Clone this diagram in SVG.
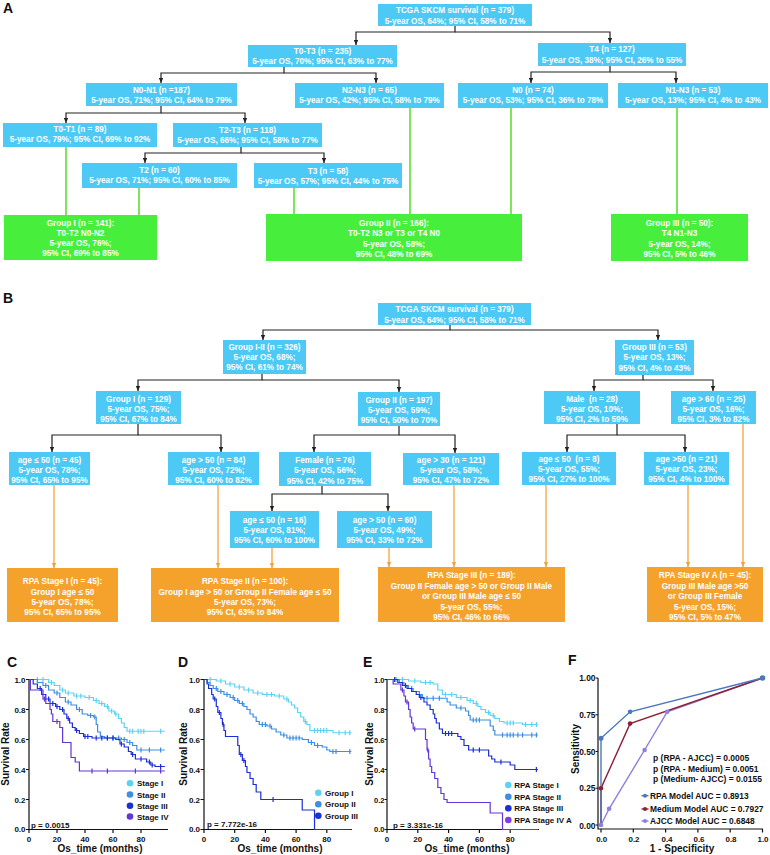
<svg xmlns="http://www.w3.org/2000/svg" width="770" height="855" viewBox="0 0 770 855">
<defs>
<style>
.bb{fill:#4DC9F5}
.bg{fill:#48EE3C}
.bo{fill:#F5A22C}
.bt{font-family:"Liberation Sans",Arial,sans-serif;font-size:8.2px;font-weight:bold;fill:#fff;text-anchor:middle}
.lk{stroke:#222;stroke-width:1.2;fill:none;marker-end:url(#ak)}
.lgn{stroke:#5FDC35;stroke-width:1.6;fill:none}
.lor{stroke:#F2A33C;stroke-width:1.3;fill:none;marker-end:url(#ao)}
.pl{font-family:"Liberation Sans",Arial,sans-serif;font-weight:bold;font-size:14px;fill:#111}
.tk{font-family:"Liberation Sans",Arial,sans-serif;font-weight:bold;font-size:8px;fill:#111}
.ttl{font-family:"Liberation Sans",Arial,sans-serif;font-weight:bold;font-size:10px;fill:#111;text-anchor:middle}
.lgt{font-family:"Liberation Sans",Arial,sans-serif;font-weight:bold;font-size:8px;fill:#111}
.st{font-family:"Liberation Sans",Arial,sans-serif;font-weight:bold;font-size:8.5px;fill:#111}
.ax{stroke:#111;stroke-width:1.2;fill:none}
.km{fill:none;stroke-width:1.2;vector-effect:non-scaling-stroke}
.c1{stroke:#5DD3F3}
.c2{stroke:#3C8FE3}
.c3{stroke:#1B2FD6}
.c4{stroke:#6236D8}
</style>
<marker id="ak" markerUnits="userSpaceOnUse" markerWidth="5" markerHeight="5" viewBox="0 0 5 5" refX="5" refY="2.5" orient="auto"><path d="M0,0.3 L5,2.5 L0,4.7 z" fill="#222"/></marker>
<marker id="ao" markerUnits="userSpaceOnUse" markerWidth="5" markerHeight="5" viewBox="0 0 5 5" refX="5" refY="2.5" orient="auto"><path d="M0,0.3 L5,2.5 L0,4.7 z" fill="#F2A33C"/></marker>
</defs>
<rect width="770" height="855" fill="#fff"/>

<!-- Panel A -->
<text class="pl" x="3" y="13">A</text>
<g id="connectors-a">
<path class="lk" d="M455 26 V32 H356 V45"/>
<path class="lk" d="M455 32 H610 V43"/>
<path class="lk" d="M284 67 V73 H161 V83"/>
<path class="lk" d="M284 73 H376 V83"/>
<path class="lk" d="M610 66 V72 H531 V83"/>
<path class="lk" d="M610 72 H676 V83"/>
<path class="lk" d="M161 106 V113 H66 V123"/>
<path class="lk" d="M161 113 H245 V123"/>
<path class="lk" d="M241 147 V153 H145 V163"/>
<path class="lk" d="M241 153 H324 V163"/>
<path class="lgn" d="M66 147 V215"/>
<path class="lgn" d="M139 188 V215"/>
<path class="lgn" d="M294 188 V214"/>
<path class="lgn" d="M410 108 V214"/>
<path class="lgn" d="M511 108 V214"/>
<path class="lgn" d="M677 108 V214"/>
</g>
<g id="a-root"><rect class="bb" x="378" y="4" width="154" height="22"/><text class="bt"><tspan x="455" y="13">TCGA SKCM survival (n = 379)</tspan><tspan x="455" y="23.5">5-year OS, 64%; 95% CI, 58% to 71%</tspan></text></g>
<g id="a-t0t3"><rect class="bb" x="248" y="45" width="149" height="22"/><text class="bt"><tspan x="322.5" y="53.5">T0-T3 (n = 235)</tspan><tspan x="322.5" y="64">5-year OS, 70%; 95% CI, 63% to 77%</tspan></text></g>
<g id="a-t4"><rect class="bb" x="538" y="43" width="148" height="23"/><text class="bt"><tspan x="612" y="52">T4 (n = 127)</tspan><tspan x="612" y="62.5">5-year OS, 38%; 95% CI, 26% to 55%</tspan></text></g>
<g id="a-n0n1"><rect class="bb" x="86" y="83" width="151" height="23"/><text class="bt"><tspan x="161.5" y="92.5">N0-N1 (n =187)</tspan><tspan x="161.5" y="102.5">5-year OS, 71%; 95% CI, 64% to 79%</tspan></text></g>
<g id="a-n2n3"><rect class="bb" x="295" y="83" width="149" height="25"/><text class="bt"><tspan x="369.5" y="93">N2-N3 (n = 65)</tspan><tspan x="369.5" y="103">5-year OS, 42%; 95% CI, 58% to 79%</tspan></text></g>
<g id="a-n0"><rect class="bb" x="458" y="83" width="150" height="25"/><text class="bt"><tspan x="533" y="92.5">N0 (n = 74)</tspan><tspan x="533" y="102.5">5-year OS, 53%; 95% CI, 36% to 78%</tspan></text></g>
<g id="a-n1n3"><rect class="bb" x="618" y="83" width="150" height="25"/><text class="bt"><tspan x="693" y="92.5">N1-N3 (n = 53)</tspan><tspan x="693" y="102.5">5-year OS, 13%; 95% CI, 4% to 43%</tspan></text></g>
<g id="a-t0t1"><rect class="bb" x="3" y="123" width="154" height="24"/><text class="bt"><tspan x="80" y="131.5">T0-T1 (n = 89)</tspan><tspan x="80" y="141.5">5-year OS, 79%; 95% CI, 69% to 92%</tspan></text></g>
<g id="a-t2t3"><rect class="bb" x="173" y="123" width="149" height="24"/><text class="bt"><tspan x="247.5" y="132.5">T2-T3 (n = 118)</tspan><tspan x="247.5" y="143">5-year OS, 66%; 95% CI, 58% to 77%</tspan></text></g>
<g id="a-t2"><rect class="bb" x="82" y="163" width="155" height="25"/><text class="bt"><tspan x="159.5" y="173">T2 (n = 60)</tspan><tspan x="159.5" y="183">5-year OS, 71%; 95% CI, 60% to 85%</tspan></text></g>
<g id="a-t3"><rect class="bb" x="254" y="163" width="148" height="25"/><text class="bt"><tspan x="328" y="174">T3 (n = 58)</tspan><tspan x="328" y="184">5-year OS, 57%; 95% CI, 44% to 75%</tspan></text></g>
<g id="a-g1"><rect class="bg" x="4" y="215" width="153" height="45"/><text class="bt"><tspan x="80.5" y="226">Group I (n = 141):</tspan><tspan x="80.5" y="236">T0-T2 N0-N2</tspan><tspan x="80.5" y="246">5-year OS, 76%;</tspan><tspan x="80.5" y="256">95% CI, 69% to 85%</tspan></text></g>
<g id="a-g2"><rect class="bg" x="266" y="214" width="256" height="47"/><text class="bt"><tspan x="394" y="225.5">Group II (n = 166):</tspan><tspan x="394" y="236">T0-T2 N3 or T3 or T4 N0</tspan><tspan x="394" y="246.5">5-year OS, 58%;</tspan><tspan x="394" y="256.5">95% CI, 48% to 69%</tspan></text></g>
<g id="a-g3"><rect class="bg" x="611" y="214" width="137" height="47"/><text class="bt"><tspan x="679.5" y="225.5">Group III (n = 50):</tspan><tspan x="679.5" y="236">T4 N1-N3</tspan><tspan x="679.5" y="246.5">5-year OS, 14%;</tspan><tspan x="679.5" y="256.5">95% CI, 5% to 46%</tspan></text></g>

<!-- Panel B -->
<text class="pl" x="3" y="303">B</text>
<g id="connectors-b">
<path class="lk" d="M450 325 V330 H263 V340"/>
<path class="lk" d="M450 330 H658 V340"/>
<path class="lk" d="M262 374 V380 H138 V391"/>
<path class="lk" d="M262 380 H399 V392"/>
<path class="lk" d="M643 375 V380 H594 V391"/>
<path class="lk" d="M643 380 H713 V391"/>
<path class="lk" d="M138 424 V435 H52 V452"/>
<path class="lk" d="M138 435 H221 V452"/>
<path class="lk" d="M399 426 V435 H314 V452"/>
<path class="lk" d="M399 435 H455 V453"/>
<path class="lk" d="M617 424 V435 H567 V452"/>
<path class="lk" d="M617 435 H685 V452"/>
<path class="lk" d="M322 486 V494 H272 V511"/>
<path class="lk" d="M322 494 H388 V511"/>
<path class="lor" d="M54 485 V568"/>
<path class="lor" d="M218 485 V568"/>
<path class="lor" d="M272 548 V568"/>
<path class="lor" d="M389 548 V567"/>
<path class="lor" d="M454 485 V567"/>
<path class="lor" d="M546 485 V567"/>
<path class="lor" d="M688 485 V567"/>
<path class="lor" d="M743 424 V567"/>
</g>
<g id="b-root"><rect class="bb" x="378" y="303" width="153" height="22"/><text class="bt"><tspan x="454.5" y="312">TCGA SKCM survival (n = 379)</tspan><tspan x="454.5" y="322.5">5-year OS, 64%; 95% CI, 58% to 71%</tspan></text></g>
<g id="b-g12"><rect class="bb" x="223" y="340" width="83" height="34"/><text class="bt"><tspan x="264.5" y="350">Group I-II (n = 326)</tspan><tspan x="264.5" y="360">5-year OS, 68%;</tspan><tspan x="264.5" y="370">95% CI, 61% to 74%</tspan></text></g>
<g id="b-g3"><rect class="bb" x="615" y="340" width="79" height="35"/><text class="bt"><tspan x="654.5" y="350">Group III (n = 53)</tspan><tspan x="654.5" y="360">5-year OS, 13%;</tspan><tspan x="654.5" y="370.5">95% CI, 4% to 43%</tspan></text></g>
<g id="b-g1"><rect class="bb" x="96" y="391" width="85" height="33"/><text class="bt"><tspan x="138.5" y="401.5">Group I (n = 129)</tspan><tspan x="138.5" y="411.5">5-year OS, 75%;</tspan><tspan x="138.5" y="421.5">95% CI, 67% to 84%</tspan></text></g>
<g id="b-g2"><rect class="bb" x="358" y="392" width="82" height="34"/><text class="bt"><tspan x="399" y="402.5">Group II (n = 197)</tspan><tspan x="399" y="412.5">5-year OS, 59%;</tspan><tspan x="399" y="422.5">95% CI, 50% to 70%</tspan></text></g>
<g id="b-male"><rect class="bb" x="544" y="391" width="96" height="33"/><text class="bt"><tspan x="592" y="401.5">Male&#160; (n = 28)</tspan><tspan x="592" y="411.5">5-year OS, 10%;</tspan><tspan x="592" y="421.5">95% CI, 2% to 59%</tspan></text></g>
<g id="b-age60"><rect class="bb" x="671" y="391" width="85" height="33"/><text class="bt"><tspan x="713.5" y="401.5">age &gt; 60 (n = 25)</tspan><tspan x="713.5" y="411.5">5-year OS, 16%;</tspan><tspan x="713.5" y="421.5">95% CI, 3% to 82%</tspan></text></g>
<g id="b-age-le50-45"><rect class="bb" x="9" y="452" width="81" height="33"/><text class="bt"><tspan x="49.5" y="462.5">age ≤ 50 (n = 45)</tspan><tspan x="49.5" y="472.5">5-year OS, 78%;</tspan><tspan x="49.5" y="482.5">95% CI, 65% to 95%</tspan></text></g>
<g id="b-age-gt50-84"><rect class="bb" x="168" y="452" width="91" height="33"/><text class="bt"><tspan x="213.5" y="462.5">age &gt; 50 (n = 84)</tspan><tspan x="213.5" y="472.5">5-year OS, 72%;</tspan><tspan x="213.5" y="482.5">95% CI, 60% to 82%</tspan></text></g>
<g id="b-female"><rect class="bb" x="279" y="452" width="92" height="34"/><text class="bt"><tspan x="325" y="463">Female (n = 76)</tspan><tspan x="325" y="473">5-year OS, 56%;</tspan><tspan x="325" y="483.5">95% CI, 42% to 75%</tspan></text></g>
<g id="b-age-gt30"><rect class="bb" x="403" y="453" width="96" height="32"/><text class="bt"><tspan x="451" y="463">age &gt; 30 (n = 121)</tspan><tspan x="451" y="473">5-year OS, 58%;</tspan><tspan x="451" y="483">95% CI, 47% to 72%</tspan></text></g>
<g id="b-age-le50-8"><rect class="bb" x="522" y="452" width="94" height="33"/><text class="bt"><tspan x="569" y="462">age ≤ 50&#160; (n = 8)</tspan><tspan x="569" y="472">5-year OS, 55%;</tspan><tspan x="569" y="482">95% CI, 27% to 100%</tspan></text></g>
<g id="b-age-gt50-21"><rect class="bb" x="644" y="452" width="85" height="33"/><text class="bt"><tspan x="686.5" y="462">age &gt;50 (n = 21)</tspan><tspan x="686.5" y="472">5-year OS, 23%;</tspan><tspan x="686.5" y="482">95% CI, 4% to 100%</tspan></text></g>
<g id="b-age-le50-16"><rect class="bb" x="230" y="511" width="89" height="37"/><text class="bt"><tspan x="274.5" y="522.5">age ≤ 50 (n = 16)</tspan><tspan x="274.5" y="532.5">5-year OS, 81%;</tspan><tspan x="274.5" y="542.5">95% CI, 60% to 100%</tspan></text></g>
<g id="b-age-gt50-60"><rect class="bb" x="337" y="511" width="95" height="37"/><text class="bt"><tspan x="384.5" y="522.5">age &gt; 50 (n = 60)</tspan><tspan x="384.5" y="532.5">5-year OS, 49%;</tspan><tspan x="384.5" y="542.5">95% CI, 33% to 72%</tspan></text></g>
<g id="b-rpa1"><rect class="bo" x="7" y="568" width="111" height="54"/><text class="bt"><tspan x="62.5" y="584">RPA Stage I (n = 45):</tspan><tspan x="62.5" y="594.5">Group I age ≤ 50</tspan><tspan x="62.5" y="604.5">5-year OS, 78%;</tspan><tspan x="62.5" y="615">95% CI, 65% to 95%</tspan></text></g>
<g id="b-rpa2"><rect class="bo" x="151" y="568" width="188" height="54"/><text class="bt"><tspan x="245" y="584">RPA Stage II (n = 100):</tspan><tspan x="245" y="594.5">Group I age &gt; 50 or Group II Female age ≤ 50</tspan><tspan x="245" y="604.5">5-year OS, 73%;</tspan><tspan x="245" y="615">95% CI, 63% to 84%</tspan></text></g>
<g id="b-rpa3"><rect class="bo" x="378" y="567" width="187" height="55"/><text class="bt"><tspan x="471.5" y="578">RPA Stage III (n = 189):</tspan><tspan x="471.5" y="588.5">Group II Female age &gt; 50 or Group II Male</tspan><tspan x="471.5" y="599">or Group III Male age ≤ 50</tspan><tspan x="471.5" y="609.5">5-year OS, 55%;</tspan><tspan x="471.5" y="620">95% CI, 46% to 66%</tspan></text></g>
<g id="b-rpa4"><rect class="bo" x="647" y="567" width="116" height="55"/><text class="bt"><tspan x="705" y="578">RPA Stage IV A (n = 45):</tspan><tspan x="705" y="588.5">Group III Male age &gt;50</tspan><tspan x="705" y="599">or Group III Female</tspan><tspan x="705" y="609.5">5-year OS, 15%;</tspan><tspan x="705" y="620">95% CI, 5% to 47%</tspan></text></g>

<!-- Panel C -->
<g id="panelC">
<text class="pl" x="7" y="667">C</text>
<path class="ax" d="M29 679.5 V829.5 H168 M26 679.5 H29 M26 709.5 H29 M26 739.5 H29 M26 769.5 H29 M26 799.5 H29 M26 829.5 H29 M29 829.5 V833 M57 829.5 V833 M85 829.5 V833 M113 829.5 V833 M141 829.5 V833"/>
<g class="tk" text-anchor="end"><text x="25.5" y="682.5">1.0</text><text x="25.5" y="712.5">0.8</text><text x="25.5" y="742.5">0.6</text><text x="25.5" y="772.5">0.4</text><text x="25.5" y="802.5">0.2</text><text x="25.5" y="832">0.0</text></g>
<g class="tk" text-anchor="middle"><text x="29" y="842">0</text><text x="57" y="842">20</text><text x="85" y="842">40</text><text x="113" y="842">60</text><text x="141" y="842">80</text></g>
<text class="ttl" x="100" y="852">Os_time (months)</text>
<text class="ttl" transform="translate(9,754) rotate(-90)">Survival Rate</text>
<g transform="translate(29,829.5) scale(1.4,-150)">
<path class="km c1" d="M0 1 H14 V0.98 H18 V0.96 H22 V0.93 H26 V0.91 H32 V0.89 H40 V0.88 H46 V0.86 H50 V0.84 H54 V0.82 H57 V0.79 H61 V0.77 H64 V0.74 H66 V0.71 H68 V0.68 H70 V0.655 H97"/>
<path class="km c1" d="M6 .983v.034M10 .983v.034M16 .963v.034M24 .913v.034M28 .893v.034M34 .873v.034M37 .873v.034M43 .863v.034M48 .843v.034M52 .823v.034M56 .803v.034M59 .773v.034M62 .753v.034M72 .638v.034M74 .638v.034M78 .638v.034M80 .638v.034M82 .638v.034M94 .638v.034"/>
<path class="km c2" d="M0 1 H6 V0.98 H10 V0.96 H14 V0.93 H18 V0.91 H22 V0.88 H26 V0.85 H30 V0.83 H34 V0.8 H38 V0.77 H42 V0.76 H46 V0.75 H48 V0.7 H49 V0.65 H51 V0.62 H54 V0.61 H66 V0.6 H70 V0.58 H74 V0.56 H77 V0.53 H97"/>
<path class="km c2" d="M12 .943v.034M20 .893v.034M28 .833v.034M36 .783v.034M44 .743v.034M47 .733v.034M56 .593v.034M60 .593v.034M64 .593v.034M68 .583v.034M72 .563v.034M80 .513v.034M86 .513v.034M94 .513v.034"/>
<path class="km c3" d="M0 1 H3 V0.97 H6 V0.94 H9 V0.9 H12 V0.87 H15 V0.84 H19 V0.82 H22 V0.8 H25 V0.77 H27 V0.74 H29 V0.71 H31 V0.68 H33 V0.66 H36 V0.64 H39 V0.62 H45 V0.61 H62 V0.6 H65 V0.57 H68 V0.55 H71 V0.52 H73 V0.5 H76 V0.47 H84 V0.45 H87 V0.43 H90 V0.42 H97"/>
<path class="km c3" d="M8 .923v.034M14 .853v.034M17 .823v.034M20 .803v.034M24 .783v.034M28 .723v.034M34 .643v.034M40 .603v.034M42 .603v.034M48 .593v.034M52 .593v.034M56 .593v.034M60 .593v.034M66 .553v.034M74 .483v.034M80 .453v.034M86 .433v.034M88 .413v.034M94 .403v.034"/>
<path class="km c4" d="M0 1 H1 V0.93 H10 V0.87 H12 V0.84 H15 V0.8 H16 V0.77 H17 V0.72 H22 V0.68 H24 V0.58 H30 V0.48 H33 V0.45 H36 V0.39 H97"/>
<path class="km c4" d="M11 .853v.034M20 .703v.034M45 .373v.034M56 .373v.034M76 .373v.034M94 .373v.034"/>
</g>
<circle cx="130" cy="783.3" r="3.3" fill="#5DD3F3"/><circle cx="130" cy="794.5" r="3.3" fill="#3C8FE3"/><circle cx="130" cy="805.7" r="3.3" fill="#1B2FD6"/><circle cx="130" cy="816.5" r="3.3" fill="#6236D8"/>
<g class="lgt"><text x="137" y="786.3">Stage I</text><text x="137" y="797.5">Stage II</text><text x="137" y="808.7">Stage III</text><text x="137" y="819.5">Stage IV</text></g>
<text class="lgt" x="31" y="828">p = 0.0015</text>
</g>

<!-- Panel D -->
<g id="panelD">
<text class="pl" x="178" y="667">D</text>
<path class="ax" d="M204 679.5 V829.5 H352 M200.5 679.5 H204 M200.5 709.5 H204 M200.5 739.5 H204 M200.5 769.5 H204 M200.5 799.5 H204 M200.5 829.5 H204 M204 829.5 V833 M234.7 829.5 V833 M265.4 829.5 V833 M296.1 829.5 V833 M326.8 829.5 V833"/>
<g class="tk" text-anchor="end"><text x="200" y="682.5">1.0</text><text x="200" y="712.5">0.8</text><text x="200" y="742.5">0.6</text><text x="200" y="772.5">0.4</text><text x="200" y="802.5">0.2</text><text x="200" y="832">0.0</text></g>
<g class="tk" text-anchor="middle"><text x="204" y="842">0</text><text x="234.7" y="842">20</text><text x="265.4" y="842">40</text><text x="296.1" y="842">60</text><text x="326.8" y="842">80</text></g>
<text class="ttl" x="280" y="852">Os_time (months)</text>
<text class="ttl" transform="translate(187,754) rotate(-90)">Survival Rate</text>
<g transform="translate(204,829.5) scale(1.535,-150)">
<path class="km c1" d="M0 1 H8 V0.99 H14 V0.97 H20 V0.95 H26 V0.93 H32 V0.91 H38 V0.9 H46 V0.89 H52 V0.87 H55 V0.85 H57 V0.83 H59 V0.81 H61 V0.78 H63 V0.75 H65 V0.72 H67 V0.7 H69 V0.66 H84 V0.645 H96"/>
<path class="km c1" d="M4 .983v.034M11 .973v.034M17 .953v.034M23 .933v.034M29 .913v.034M35 .893v.034M41 .883v.034M44 .883v.034M49 .873v.034M54 .853v.034M66 .703v.034M72 .643v.034M74 .643v.034M76 .643v.034M78 .643v.034M80 .643v.034M88 .628v.034M92 .628v.034M95 .628v.034"/>
<path class="km c2" d="M0 1 H2 V0.98 H4 V0.96 H6 V0.94 H9 V0.92 H13 V0.9 H17 V0.88 H20 V0.86 H23 V0.84 H26 V0.82 H28 V0.8 H30 V0.77 H32 V0.75 H34 V0.72 H36 V0.7 H41 V0.69 H44 V0.67 H47 V0.65 H50 V0.63 H54 V0.61 H64 V0.6 H68 V0.58 H72 V0.56 H77 V0.55 H80 V0.53 H82 V0.52 H96"/>
<path class="km c2" d="M8 .923v.034M11 .903v.034M15 .883v.034M19 .863v.034M22 .843v.034M25 .823v.034M38 .683v.034M40 .683v.034M43 .673v.034M52 .613v.034M56 .593v.034M58 .593v.034M60 .593v.034M62 .593v.034M70 .563v.034M74 .543v.034M84 .503v.034M86 .503v.034M95 .503v.034"/>
<path class="km c3" d="M0 1 H2 V0.97 H3 V0.94 H5 V0.9 H6 V0.87 H8 V0.82 H9 V0.78 H11 V0.74 H12 V0.7 H13 V0.66 H14 V0.62 H22 V0.56 H23 V0.5 H25 V0.46 H27 V0.42 H28 V0.38 H30 V0.34 H32 V0.3 H34 V0.25 H37 V0.2 H64 V0.13 H72 V0 H96"/>
<path class="km c3" d="M7 .853v.034M10 .763v.034M12.5 .683v.034M24 .483v.034M26 .443v.034M45 .183v.034"/>
</g>
<circle cx="318.3" cy="792.7" r="3.3" fill="#5DD3F3"/><circle cx="318.3" cy="804.3" r="3.3" fill="#3C8FE3"/><circle cx="318.3" cy="815.7" r="3.3" fill="#1B2FD6"/>
<g class="lgt"><text x="325" y="795.7">Group I</text><text x="325" y="807.3">Group II</text><text x="325" y="818.7">Group III</text></g>
<text class="lgt" x="207" y="827">p = 7.772e-16</text>
</g>

<!-- Panel E -->
<g id="panelE">
<text class="pl" x="363" y="667">E</text>
<path class="ax" d="M387 679.5 V829.5 H539 M384.5 679.5 H387 M384.5 709.5 H387 M384.5 739.5 H387 M384.5 769.5 H387 M384.5 799.5 H387 M384.5 829.5 H387 M387 829.5 V833 M417.8 829.5 V833 M448.6 829.5 V833 M479.4 829.5 V833 M510.2 829.5 V833"/>
<g class="tk" text-anchor="end" style="font-size:7.6px"><text x="384.5" y="682.5">1.0</text><text x="384.5" y="712.5">0.8</text><text x="384.5" y="742.5">0.6</text><text x="384.5" y="772.5">0.4</text><text x="384.5" y="802.5">0.2</text><text x="384.5" y="832">0.0</text></g>
<g class="tk" text-anchor="middle"><text x="387" y="842">0</text><text x="417.8" y="842">20</text><text x="448.6" y="842">40</text><text x="479.4" y="842">60</text><text x="510.2" y="842">80</text></g>
<text class="ttl" x="467" y="852">Os_time (months)</text>
<text class="ttl" transform="translate(373,754) rotate(-90)">Survival Rate</text>
<g transform="translate(387,829.5) scale(1.54,-150)">
<path class="km c1" d="M0 1 H14 V0.99 H22 V0.98 H30 V0.97 H33 V0.93 H36 V0.9 H45 V0.88 H52 V0.86 H56 V0.84 H59 V0.82 H61 V0.8 H64 V0.78 H67 V0.76 H70 V0.74 H73 V0.72 H76 V0.71 H88 V0.7 H98"/>
<path class="km c1" d="M6 .983v.034M10 .983v.034M18 .973v.034M25 .963v.034M28 .963v.034M38 .883v.034M42 .883v.034M48 .863v.034M54 .843v.034M58 .823v.034M66 .763v.034M69 .743v.034M78 .693v.034M80 .693v.034M82 .693v.034M90 .683v.034M94 .683v.034M97 .683v.034"/>
<path class="km c2" d="M0 1 H8 V0.98 H11 V0.96 H14 V0.94 H17 V0.92 H21 V0.9 H23 V0.875 H39 V0.85 H41 V0.83 H45 V0.81 H51 V0.79 H53 V0.76 H54 V0.73 H67 V0.69 H69 V0.66 H70 V0.63 H98"/>
<path class="km c2" d="M5 .983v.034M16 .923v.034M26 .858v.034M30 .858v.034M34 .858v.034M48 .793v.034M56 .713v.034M58 .713v.034M60 .713v.034M75 .613v.034M78 .613v.034M80 .613v.034M82 .613v.034M85 .613v.034M88 .613v.034M94 .613v.034M97 .613v.034"/>
<path class="km c3" d="M0 1 H7 V0.98 H10 V0.96 H13 V0.94 H16 V0.92 H19 V0.9 H21 V0.88 H24 V0.85 H26 V0.83 H28 V0.8 H30 V0.77 H31 V0.74 H32 V0.71 H34 V0.67 H36 V0.64 H46 V0.62 H48 V0.6 H50 V0.56 H53 V0.53 H66 V0.49 H68 V0.47 H70 V0.45 H80 V0.43 H83 V0.4 H98"/>
<path class="km c3" d="M5 .983v.034M12 .943v.034M22 .863v.034M38 .623v.034M40 .623v.034M42 .623v.034M56 .513v.034M60 .513v.034M74 .433v.034M97 .383v.034"/>
<path class="km c4" d="M0 1 H4 V0.97 H9 V0.93 H11 V0.89 H12 V0.85 H14 V0.8 H15 V0.75 H16 V0.71 H17 V0.67 H25 V0.6 H26 V0.53 H27 V0.47 H28 V0.42 H29 V0.38 H31 V0.34 H33 V0.28 H35 V0.24 H37 V0.2 H39 V0.18 H67 V0.11 H75 V0 H98"/>
<path class="km c4" d="M10 .913v.034M13 .833v.034M18 .653v.034M26.5 .513v.034"/>
</g>
<circle cx="508.3" cy="785" r="3.3" fill="#5DD3F3"/><circle cx="508.3" cy="796.7" r="3.3" fill="#3C8FE3"/><circle cx="508.3" cy="808.3" r="3.3" fill="#1B2FD6"/><circle cx="508.3" cy="820" r="3.3" fill="#7B3FE6"/>
<g class="lgt"><text x="514.3" y="788">RPA Stage I</text><text x="514.3" y="799.7">RPA Stage II</text><text x="514.3" y="811.3">RPA Stage III</text><text x="514.3" y="823">RPA Stage IV A</text></g>
<text class="lgt" x="393" y="828">p = 3.331e-16</text>
</g>

<!-- Panel F -->
<g id="panelF">
<text class="pl" x="568" y="665">F</text>
<path class="ax" d="M598 678 V829 H763 M595.5 678 H598 M595.5 714.75 H598 M595.5 751.5 H598 M595.5 788.25 H598 M595.5 825 H598 M601 829 V832.5 M633.3 829 V832.5 M665.6 829 V832.5 M697.9 829 V832.5 M730.2 829 V832.5 M762.5 829 V832.5"/>
<g class="tk" text-anchor="end" style="font-size:8.4px"><text x="595.5" y="681">1.00</text><text x="595.5" y="717.8">0.75</text><text x="595.5" y="754.5">0.50</text><text x="595.5" y="791.3">0.25</text><text x="595.5" y="829">0.00</text></g>
<g class="tk" text-anchor="middle"><text x="601.7" y="841.5">0.0</text><text x="634" y="841.5">0.2</text><text x="667" y="841.5">0.4</text><text x="699" y="841.5">0.6</text><text x="731" y="841.5">0.8</text><text x="763" y="841.5">1.0</text></g>
<text class="ttl" x="682" y="852">1 - Specificity</text>
<text class="ttl" transform="translate(579,749) rotate(-90)">Sensitivity</text>
<path d="M601 825 L609.1 808.8 L644.6 750 L667.2 711.8 L762.5 678" fill="none" stroke="#8C80E2" stroke-width="1.4"/>
<path d="M601 825 L601 788.25 L630.1 723.6 L762.5 678" fill="none" stroke="#8E1F35" stroke-width="1.4"/>
<path d="M601 825 L601 738.3 L630.1 711.8 L762.5 678" fill="none" stroke="#4A78C0" stroke-width="1.4"/>
<g fill="#8C80E2"><circle cx="601" cy="825" r="2.3"/><circle cx="609.1" cy="808.8" r="2.3"/><circle cx="644.6" cy="750" r="2.3"/><circle cx="667.2" cy="711.8" r="2.3"/></g>
<g fill="#8E1F35"><circle cx="601" cy="788.25" r="2.3"/><circle cx="630.1" cy="723.6" r="2.3"/></g>
<g fill="#4A78C0"><circle cx="601" cy="738.3" r="2.5"/><circle cx="630.1" cy="711.8" r="2.3"/><circle cx="762.5" cy="678" r="2.8"/></g>
<g class="st"><text x="653" y="761">p (RPA - AJCC) = 0.0005</text><text x="653" y="772">p (RPA - Medium) = 0.0051</text><text x="653" y="782">p (Medium- AJCC) = 0.0155</text></g>
<path d="M641.5 795.7 H648.5" stroke="#4A78C0" stroke-width="1.4"/><circle cx="645" cy="795.7" r="2" fill="#4A78C0"/>
<path d="M641.5 809 H648.5" stroke="#8E1F35" stroke-width="1.4"/><circle cx="645" cy="809" r="2" fill="#8E1F35"/>
<path d="M641.5 821 H648.5" stroke="#8C80E2" stroke-width="1.4"/><circle cx="645" cy="821" r="2" fill="#8C80E2"/>
<g class="st" style="font-size:8.4px"><text x="650" y="798.7">RPA Model AUC = 0.8913</text><text x="650" y="812">Medium Model AUC = 0.7927</text><text x="650" y="824">AJCC Model AUC = 0.6848</text></g>
</g>
</svg>
